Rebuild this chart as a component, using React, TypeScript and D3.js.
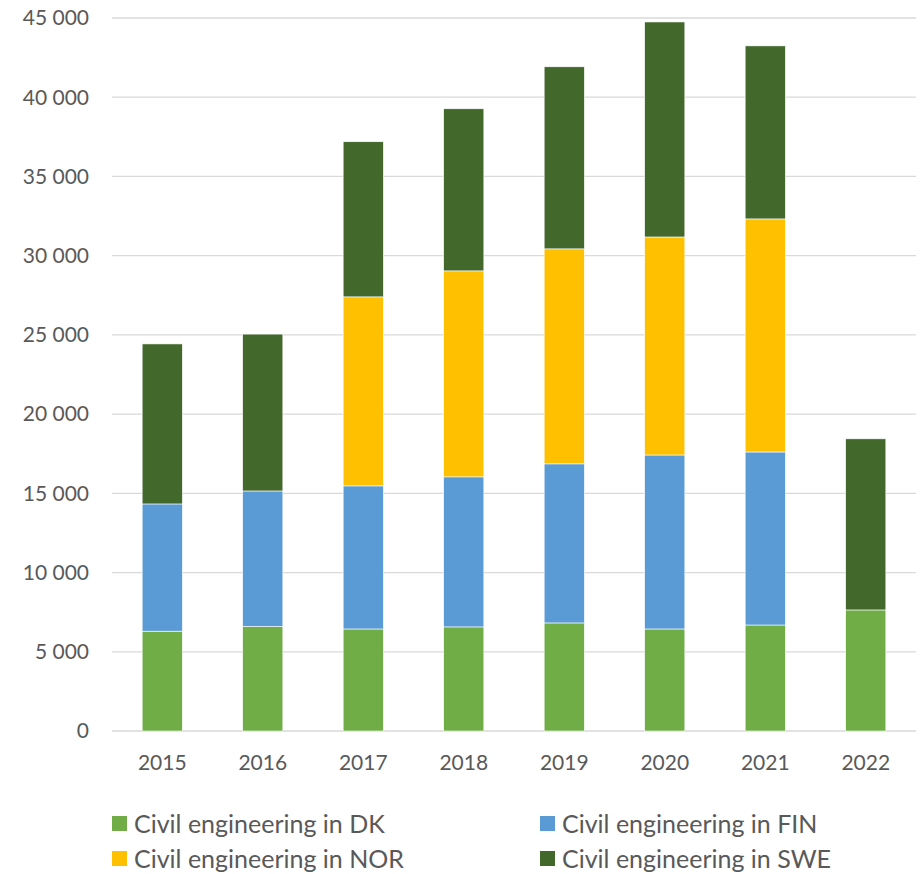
import React from "react";
import * as d3 from "d3";

const years = ["2015", "2016", "2017", "2018", "2019", "2020", "2021", "2022"];
const dk = [6300, 6600, 6440, 6570, 6820, 6440, 6690, 7640];
const fin = [8030, 8550, 9030, 9470, 10040, 10980, 10920, 0];
const nor = [0, 0, 11930, 13000, 13570, 13760, 14710, 0];
const swe = [10100, 9900, 9790, 10230, 11490, 13570, 10920, 10800];
const yTicks = [0, 5000, 10000, 15000, 20000, 25000, 30000, 35000, 40000, 45000];

const seriesNames = [
  "Civil engineering in DK",
  "Civil engineering in FIN",
  "Civil engineering in NOR",
  "Civil engineering in SWE",
];
const colors = ["#70AD47", "#5B9BD5", "#FFC000", "#43682B"];

const W = 923;
const H = 874;
const font = "Lato, 'Open Sans', sans-serif";
const textColor = "#595959";

const App = () => {
  const x = d3.scaleBand().domain(years).range([112, 916]).paddingInner(0.6).paddingOuter(0.3);
  const y = d3.scaleLinear().domain([0, 45000]).range([731, 18]);

  const rows = years.map((yr, i) => ({ year: yr, dk: dk[i], fin: fin[i], nor: nor[i], swe: swe[i] }));
  const stack = d3.stack<any>().keys(["dk", "fin", "nor", "swe"])(rows);
  const fmt = (v: number) => d3.format(",")(v).replace(/,/g, " ");

  // legend slots: two columns, two rows
  const legendPos = [
    [112, 824],
    [540, 824],
    [112, 859],
    [540, 859],
  ];

  return (
    <svg width={W} height={H} style={{ position: "absolute", left: 0, top: 0, background: "#fff" }}>
      {yTicks.map((t) => (
        <g key={t}>
          <line x1={112} x2={916} y1={y(t)} y2={y(t)} stroke="#D9D9D9" strokeWidth={1.3} />
          <text x={89} y={y(t)} dy="0.35em" textAnchor="end" fontFamily={font} fontSize={21} fill={textColor}>
            {fmt(t)}
          </text>
        </g>
      ))}
      {stack.map((layer, si) => (
        <g key={si} fill={colors[si]}>
          {layer.map((d, i) =>
            d[1] - d[0] > 0 ? (
              <rect
                key={i}
                x={x(years[i])}
                y={y(d[1])}
                width={x.bandwidth()}
                height={y(d[0]) - y(d[1])}
                stroke="#fff"
                strokeWidth={0.6}
              />
            ) : null
          )}
        </g>
      ))}
      {years.map((yr) => (
        <text
          key={yr}
          x={(x(yr) as number) + x.bandwidth() / 2}
          y={763}
          dy="0.35em"
          textAnchor="middle"
          fontFamily={font}
          fontSize={21}
          fill={textColor}
        >
          {yr}
        </text>
      ))}
      {seriesNames.map((name, i) => (
        <g key={name} transform={`translate(${legendPos[i][0]},${legendPos[i][1]})`}>
          <rect x={0} y={-8} width={15} height={15} fill={colors[i]} />
          <text x={22} y={0} dy="0.35em" fontFamily={font} fontSize={25} fill={textColor}>
            {name}
          </text>
        </g>
      ))}
    </svg>
  );
};

export default App;
